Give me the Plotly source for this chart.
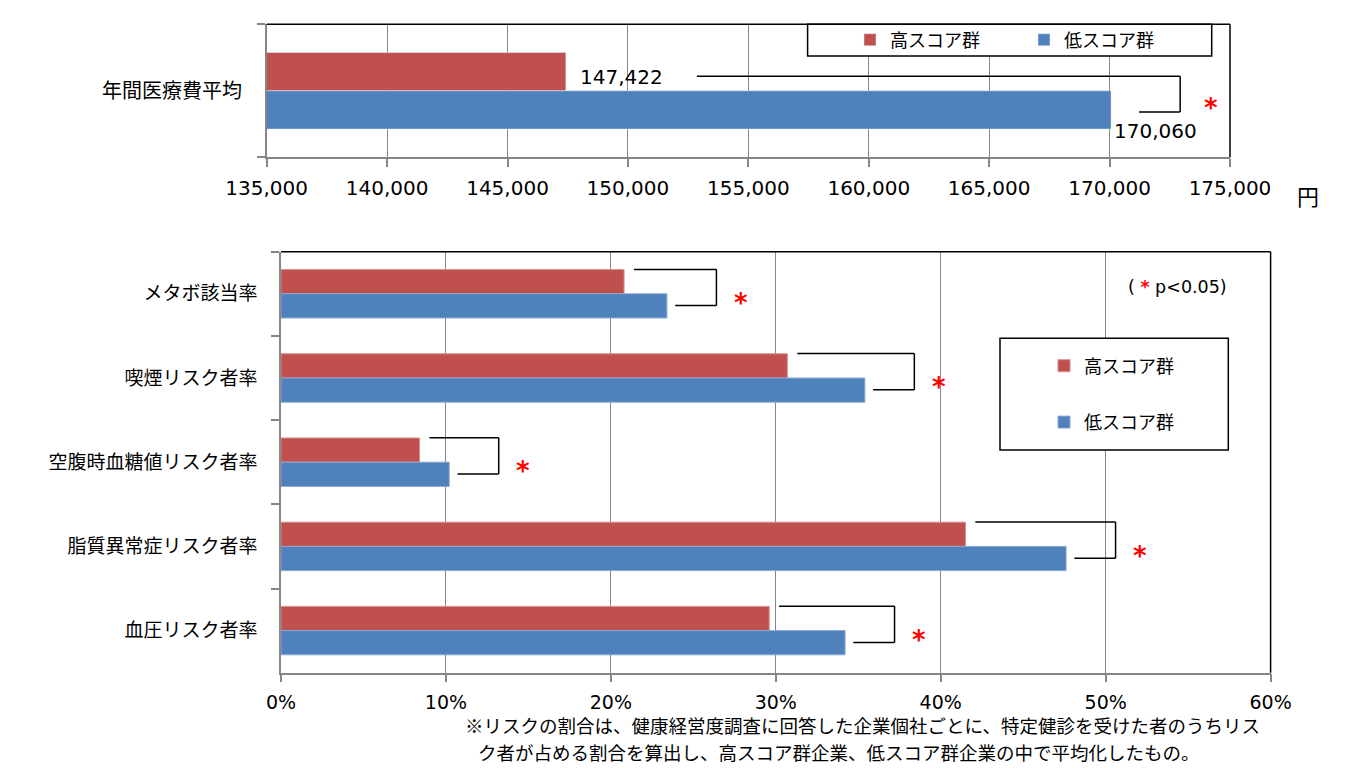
import plotly.graph_objects as go

# ---- データ ----
cost_category = ["年間医療費平均"]
cost_high = [147422]   # 高スコア群
cost_low = [170060]    # 低スコア群

risk_categories = ["メタボ該当率", "喫煙リスク者率", "空腹時血糖値リスク者率",
                   "脂質異常症リスク者率", "血圧リスク者率"]
risk_high = [20.8, 30.7, 8.4, 41.5, 29.6]    # %
risk_low = [23.4, 35.4, 10.2, 47.6, 34.2]    # %

series_names = ["高スコア群", "低スコア群"]

footnote_1 = "※リスクの割合は、健康経営度調査に回答した企業個社ごとに、特定健診を受けた者のうちリス"
footnote_2 = "ク者が占める割合を算出し、高スコア群企業、低スコア群企業の中で平均化したもの。"

RED = "#C0504D"
BLUE = "#4F81BD"
GRID = "#868686"
W, H = 1346, 768
JP = "Noto Sans CJK JP"
NUM = "DejaVu Sans"


def px_x(v):
    return v / W


def px_y(v):
    return 1 - v / H


fig = go.Figure()

# 上段: 年間医療費
fig.add_trace(go.Bar(
    x=cost_high, y=cost_category, orientation="h", name=series_names[0],
    marker_color=RED, xaxis="x", yaxis="y", legend="legend", legendrank=1,
))
fig.add_trace(go.Bar(
    x=cost_low, y=cost_category, orientation="h", name=series_names[1],
    marker_color=BLUE, xaxis="x", yaxis="y", legend="legend", legendrank=2,
))

# 下段: リスク者率
fig.add_trace(go.Bar(
    x=risk_high, y=risk_categories, orientation="h", name=series_names[0],
    marker=dict(color=RED, line=dict(color="#D28F8D", width=1)),
    xaxis="x2", yaxis="y2", legend="legend2", legendgroup="h", legendrank=1,
))
fig.add_trace(go.Bar(
    x=risk_low, y=risk_categories, orientation="h", name=series_names[1],
    marker=dict(color=BLUE, line=dict(color="#8DA9D1", width=1)),
    xaxis="x2", yaxis="y2", legend="legend2", legendgroup="l", legendrank=2,
))

shapes = []
annotations = []


def bracket(xref, yref, x_start, x_right, x_back, y_top, y_bottom):
    line = dict(color="black", width=1.5)
    shapes.append(dict(type="line", xref=xref, yref=yref, x0=x_start, x1=x_right,
                       y0=y_top, y1=y_top, line=line))
    shapes.append(dict(type="line", xref=xref, yref=yref, x0=x_right, x1=x_right,
                       y0=y_top, y1=y_bottom, line=line))
    shapes.append(dict(type="line", xref=xref, yref=yref, x0=x_right, x1=x_back,
                       y0=y_bottom, y1=y_bottom, line=line))


def star(xref, yref, x, y):
    annotations.append(dict(xref=xref, yref=yref, x=x, y=y, text="<b>*</b>",
                            showarrow=False, xanchor="center", yanchor="middle",
                            font=dict(family=NUM, size=26, color="#FF0000"),
                            yshift=-5))


# 上段: 数値ラベルと有意差ブラケット
for i, (hi, lo) in enumerate(zip(cost_high, cost_low)):
    annotations.append(dict(xref="x", yref="y", x=hi, y=i, text=f"{hi:,}",
                            showarrow=False, xanchor="left", yanchor="middle",
                            xshift=12, yshift=14,
                            font=dict(family=NUM, size=20, color="black")))
    annotations.append(dict(xref="x", yref="y", x=lo, y=i, text=f"{lo:,}",
                            showarrow=False, xanchor="left", yanchor="middle",
                            xshift=1, yshift=-40,
                            font=dict(family=NUM, size=20, color="black")))
    bracket("x", "y", hi + 5440, lo + 2870, lo + 1160, i - 0.11, i + 0.16)
    star("x", "y", lo + 2870 + 1270, i + 0.09)

# 下段の有意差ブラケット
for i, (hi, lo) in enumerate(zip(risk_high, risk_low)):
    bracket("x2", "y2", hi + 0.6, lo + 3.0, lo + 0.5, i - 0.29, i + 0.14)
    star("x2", "y2", lo + 3.0 + 1.5, i + 0.05)

# 枠線 (上・右は黒)
border = dict(color="black", width=1.5)
for (x0, x1, y0, y1) in [(266.7, 1230, 24.3, 157.3), (281, 1270.6, 251.7, 672.7)]:
    shapes.append(dict(type="line", xref="paper", yref="paper", x0=px_x(x0), x1=px_x(x1),
                       y0=px_y(y0), y1=px_y(y0), line=border))
    shapes.append(dict(type="line", xref="paper", yref="paper", x0=px_x(x1), x1=px_x(x1),
                       y0=px_y(y0), y1=px_y(y1), line=border))

# 凡例の枠
for (x0, x1, y0, y1) in [(807.6, 1211.7, 24.3, 56), (1000, 1228.3, 338.3, 450)]:
    shapes.append(dict(type="rect", xref="paper", yref="paper", x0=px_x(x0), x1=px_x(x1),
                       y0=px_y(y0), y1=px_y(y1), line=dict(color="black", width=1.5),
                       fillcolor="white", layer="above"))

annotations += [
    dict(xref="paper", yref="paper", x=px_x(1307.5), y=px_y(195), text="円",
         showarrow=False, xanchor="center", yanchor="middle",
         font=dict(family=JP, size=22, color="black")),
    dict(xref="paper", yref="paper", x=px_x(1177.5), y=px_y(287),
         text="( <span style='color:#FF0000'><b>*</b></span> p<0.05)",
         showarrow=False, xanchor="center", yanchor="middle",
         font=dict(family=NUM, size=17.5, color="black")),
    dict(xref="paper", yref="paper", x=px_x(463), y=px_y(725), text=footnote_1,
         showarrow=False, xanchor="left", yanchor="middle",
         font=dict(family=JP, size=18.5, color="black")),
    dict(xref="paper", yref="paper", x=px_x(476), y=px_y(752), text=footnote_2,
         showarrow=False, xanchor="left", yanchor="middle",
         font=dict(family=JP, size=18.5, color="black")),
]

axis_common = dict(showline=True, linecolor=GRID, linewidth=1.5, ticks="outside",
                   ticklen=8, tickcolor=GRID, tickwidth=1.5, zeroline=False,
                   automargin=False)

fig.update_layout(
    width=W, height=H, autosize=False,
    margin=dict(l=0, r=0, t=0, b=0, pad=0, autoexpand=False),
    paper_bgcolor="white", plot_bgcolor="white",
    barmode="group", bargap=0.425, bargroupgap=0,
    xaxis=dict(domain=[px_x(266.7), px_x(1230)], range=[135000, 175000], dtick=5000,
               tickformat=",d", showgrid=True, gridcolor=GRID, gridwidth=1,
               tickfont=dict(family=NUM, size=20, color="black"),
               ticklabelstandoff=4, anchor="y", **axis_common),
    yaxis=dict(domain=[px_y(157.3), px_y(24.3)], type="category", autorange="reversed",
               tickson="boundaries", showgrid=False, anchor="x",
               tickfont=dict(family=JP, size=20, color="black"),
               ticklabelstandoff=19, **axis_common),
    xaxis2=dict(domain=[px_x(281), px_x(1270.6)], range=[0, 60], dtick=10,
                ticksuffix="%", showgrid=True, gridcolor=GRID, gridwidth=1,
                tickfont=dict(family=NUM, size=19, color="black"),
                ticklabelstandoff=4, anchor="y2", **axis_common),
    yaxis2=dict(domain=[px_y(672.7), px_y(251.7)], type="category", autorange="reversed",
                tickson="boundaries", showgrid=False, anchor="x2",
                tickfont=dict(family=JP, size=19, color="black"),
                ticklabelstandoff=18, **axis_common),
    legend=dict(orientation="h", x=px_x(850), y=px_y(40), xanchor="left", yanchor="middle",
                bgcolor="rgba(0,0,0,0)", borderwidth=0, entrywidth=129,
                font=dict(family=JP, size=18, color="black")),
    legend2=dict(orientation="v", x=px_x(1044), y=px_y(394), xanchor="left",
                 yanchor="middle", traceorder="grouped", tracegroupgap=30,
                 bgcolor="rgba(0,0,0,0)", borderwidth=0,
                 font=dict(family=JP, size=18, color="black")),
    shapes=shapes,
    annotations=annotations,
)

# ページ本体の余白をなくして図を左上に合わせる
fig.write_html("out.html", config={"displayModeBar": False},
               post_script="document.body.style.margin='0';")
